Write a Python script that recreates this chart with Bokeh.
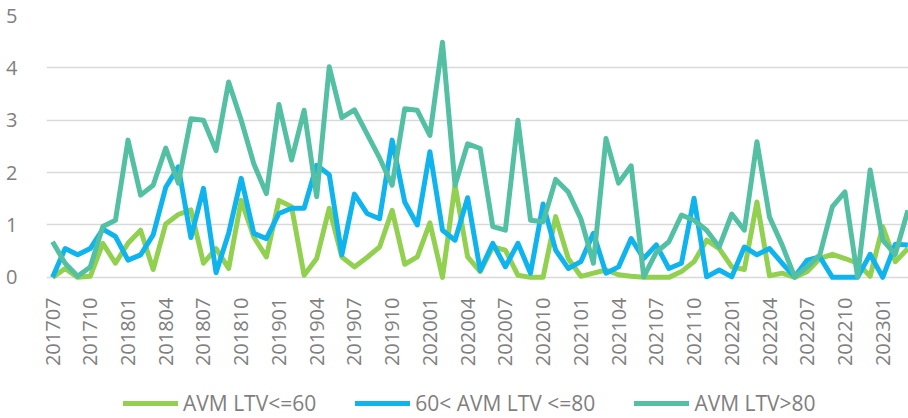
import math
from bokeh.plotting import figure
from bokeh.models import FixedTicker, Legend, LegendItem, Range1d
from bokeh.layouts import column
from bokeh.embed import file_html
from bokeh.resources import INLINE

months = [
    "201707", "201708", "201709", "201710", "201711", "201712",
    "201801", "201802", "201803", "201804", "201805", "201806",
    "201807", "201808", "201809", "201810", "201811", "201812",
    "201901", "201902", "201903", "201904", "201905", "201906",
    "201907", "201908", "201909", "201910", "201911", "201912",
    "202001", "202002", "202003", "202004", "202005", "202006",
    "202007", "202008", "202009", "202010", "202011", "202012",
    "202101", "202102", "202103", "202104", "202105", "202106",
    "202107", "202108", "202109", "202110", "202111", "202112",
    "202201", "202202", "202203", "202204", "202205", "202206",
    "202207", "202208", "202209", "202210", "202211", "202212",
    "202301", "202302", "202303",
]

ltv_le60 = [
    0.00, 0.17, 0.00, 0.02, 0.65, 0.27, 0.65, 0.90, 0.15, 1.02, 1.20, 1.29,
    0.27, 0.55, 0.17, 1.47, 0.77, 0.39, 1.47, 1.35, 0.04, 0.36, 1.32, 0.39,
    0.20, 0.38, 0.58, 1.28, 0.25, 0.39, 1.04, 0.00, 1.76, 0.39, 0.11, 0.58,
    0.52, 0.04, 0.00, 0.00, 1.16, 0.36, 0.02, 0.08, 0.14, 0.05, 0.02, 0.00,
    0.00, 0.00, 0.11, 0.30, 0.71, 0.55, 0.20, 0.15, 1.44, 0.03, 0.08, 0.00,
    0.11, 0.36, 0.44, 0.36, 0.27, 0.02, 0.97, 0.30, 0.55,
]

ltv_60_80 = [
    0.00, 0.55, 0.43, 0.55, 0.92, 0.78, 0.33, 0.43, 0.81, 1.72, 2.11, 0.76,
    1.70, 0.09, 0.84, 1.89, 0.84, 0.74, 1.22, 1.32, 1.32, 2.14, 1.96, 0.43,
    1.59, 1.22, 1.12, 2.62, 1.44, 1.00, 2.40, 0.90, 0.71, 1.52, 0.13, 0.65,
    0.20, 0.65, 0.08, 1.40, 0.52, 0.17, 0.30, 0.84, 0.08, 0.20, 0.74, 0.36,
    0.62, 0.17, 0.27, 1.51, 0.01, 0.14, 0.01, 0.58, 0.43, 0.55, 0.27, 0.01,
    0.33, 0.39, 0.00, 0.00, 0.00, 0.44, 0.00, 0.63, 0.62,
]

ltv_gt80 = [
    0.68, 0.27, 0.02, 0.20, 0.97, 1.09, 2.62, 1.57, 1.76, 2.47, 1.80, 3.03,
    3.00, 2.42, 3.73, 3.00, 2.17, 1.60, 3.30, 2.24, 3.19, 1.54, 4.02, 3.05,
    3.20, 2.74, 2.28, 1.76, 3.22, 3.19, 2.71, 4.49, 1.76, 2.55, 2.46, 0.97,
    0.90, 3.00, 1.09, 1.06, 1.87, 1.63, 1.12, 0.27, 2.65, 1.80, 2.13, 0.01,
    0.48, 0.68, 1.19, 1.09, 0.90, 0.58, 1.21, 0.90, 2.59, 1.15, 0.62, 0.01,
    0.20, 0.43, 1.35, 1.63, 0.01, 2.05, 0.71, 0.44, 1.28,
]

series_names = ["AVM LTV<=60", "60< AVM LTV <=80", "AVM LTV>80"]
y_ticks = [0, 1, 2, 3, 4, 5]

x = list(range(len(months)))
label_idx = list(range(0, len(months) - 2, 3))

GRAY = "#7f7f7f"
FONT = "Open Sans"
colors = ["#92D050", "#0FB4EE", "#53C0A3"]
series = [ltv_le60, ltv_60_80, ltv_gt80]

p = figure(width=908, height=380, output_backend="svg", toolbar_location=None,
           x_range=Range1d(-0.48, 68.05), y_range=Range1d(-0.06, 5),
           min_border_left=46, min_border_top=15, min_border_right=0,
           min_border_bottom=100)
p.outline_line_color = None
p.background_fill_color = "white"
p.border_fill_color = "white"

p.xaxis.ticker = FixedTicker(ticks=label_idx)
p.xaxis.major_label_overrides = {i: months[i] for i in label_idx}
p.xaxis.major_label_orientation = math.pi / 2
p.xaxis.major_label_standoff = 11
p.yaxis.ticker = FixedTicker(ticks=y_ticks)
p.yaxis.major_label_standoff = 23
for ax in (p.xaxis, p.yaxis):
    ax.axis_line_color = None
    ax.major_tick_line_color = None
    ax.minor_tick_line_color = None
    ax.major_label_text_font = FONT
    ax.major_label_text_font_size = "20px"
    ax.major_label_text_color = GRAY

p.xgrid.visible = False
p.ygrid.grid_line_color = "#d9d9d9"
p.ygrid.grid_line_width = 1.3

for ys, c in zip(series, colors):
    p.line(x, ys, line_color=c, line_width=5, line_join="round")

# legend panel below the chart (its frame is aligned with the chart frame)
lg = figure(width=908, height=38, output_backend="svg", toolbar_location=None,
            x_axis_type=None, y_axis_type=None,
            x_range=Range1d(0, 1), y_range=Range1d(0, 1),
            min_border_left=0, min_border_right=0, min_border_top=0,
            min_border_bottom=0)
lg.outline_line_color = None
lg.xgrid.visible = False
lg.ygrid.visible = False
lg_renderers = [lg.line([-10, -9], [-10, -10], line_color=c, line_width=5,
                        line_cap="round")
                for c in colors]

legend = Legend(
    items=[LegendItem(label=n, renderers=[r]) for n, r in zip(series_names, lg_renderers)],
    location=(77, 1), orientation="horizontal",
    glyph_width=55, glyph_height=28, label_height=28, label_standoff=5,
    spacing=39, padding=0, margin=0,
    border_line_color=None, background_fill_alpha=0,
    label_text_font=FONT, label_text_font_size="21px", label_text_color=GRAY,
)
lg.add_layout(legend, "center")

open("out.html", "w").write(file_html(column(p, lg), INLINE))
